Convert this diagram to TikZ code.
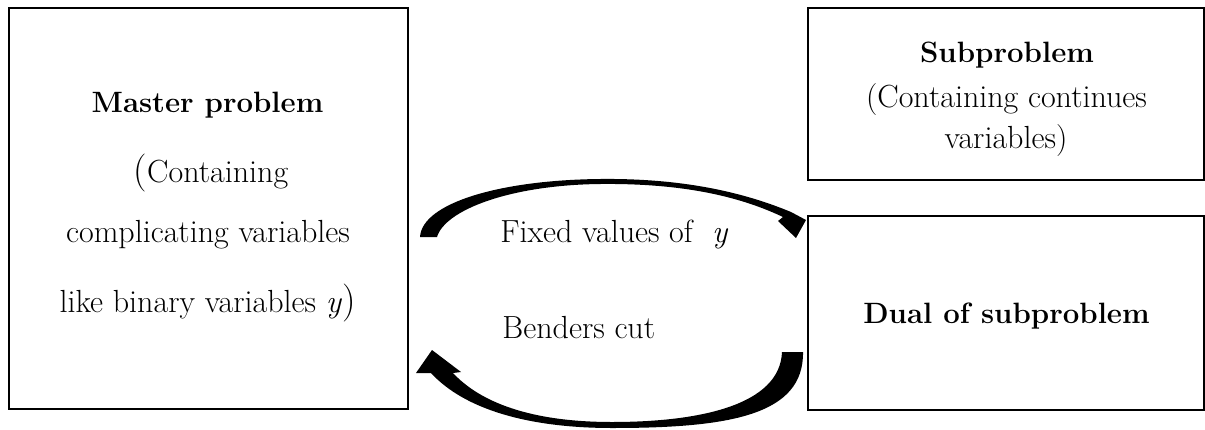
\documentclass[tikz,border=0pt]{standalone}
\begin{document}
\begin{tikzpicture}[x=0.5pt,y=-0.5pt,
  box/.style={draw,line width=1pt,rectangle,inner sep=0pt},
  reg/.style={font=\fontsize{16}{19}\selectfont,inner sep=0pt,anchor=base},
  bld/.style={font=\fontsize{14.7}{18}\bfseries\selectfont,inner sep=0pt,anchor=base},
  flow/.style={fill=black}]
\useasboundingbox (0,0) rectangle (1205,429);
\newcommand{\bigparen}[1]{{\fontsize{19}{19}\selectfont #1}}

% boxes
\node[box,minimum width=199.5pt,minimum height=200.5pt] (master) at (208.5,208.5) {};
\node[box,minimum width=198pt,minimum height=86pt] (sub) at (1006,94) {};
\node[box,minimum width=198pt,minimum height=97pt] (dual) at (1006,313) {};

% master problem text
\node[bld] (mt1) at (207.5,112) {Master problem};
\node[reg] (mt2) at (211,182) {\bigparen{(}Containing};
\node[reg] (mt3) at (208,242) {complicating variables};
\node[reg] (mt4) at (207.5,312) {like binary variables \textit{y}\bigparen{)}};

% subproblem text
\node[bld] (st1) at (1007,62) {Subproblem};
\node[reg] (st2) at (1006.5,107) {(Containing continues};
\node[reg] (st3) at (1006,148) {variables)};
\node[bld] (dt) at (1006.5,323) {Dual of subproblem};

% labels between the boxes
\node[reg,anchor=base west] (fx) at (500,242) {Fixed values of\ \ \textit{y}};
\node[reg,anchor=base west] (bc) at (502,338) {Benders cut};

% curved block arrows
\coordinate (toptip) at (796,238);
\coordinate (bottip) at (432,350);

\fill[flow] (420,237) .. controls (422,203) and (500,180) .. (600,179)
   .. controls (690,178) and (750,195) .. (791,212)
   -- (806,220) -- (toptip) -- (778,221) -- (783,217)
   .. controls (745,199) and (690,183) .. (600,184)
   .. controls (510,185) and (445,210) .. (437,237) -- cycle;

\fill[flow] (803,352) .. controls (804,415) and (730,428) .. (612,428)
   .. controls (530,428) and (465,410) .. (431,373)
   -- (416,373) -- (bottip) -- (461,372) -- (453,373)
   .. controls (480,402) and (530,422) .. (612,422)
   .. controls (700,422) and (780,405) .. (782,352) -- cycle;
\end{tikzpicture}
\end{document}
